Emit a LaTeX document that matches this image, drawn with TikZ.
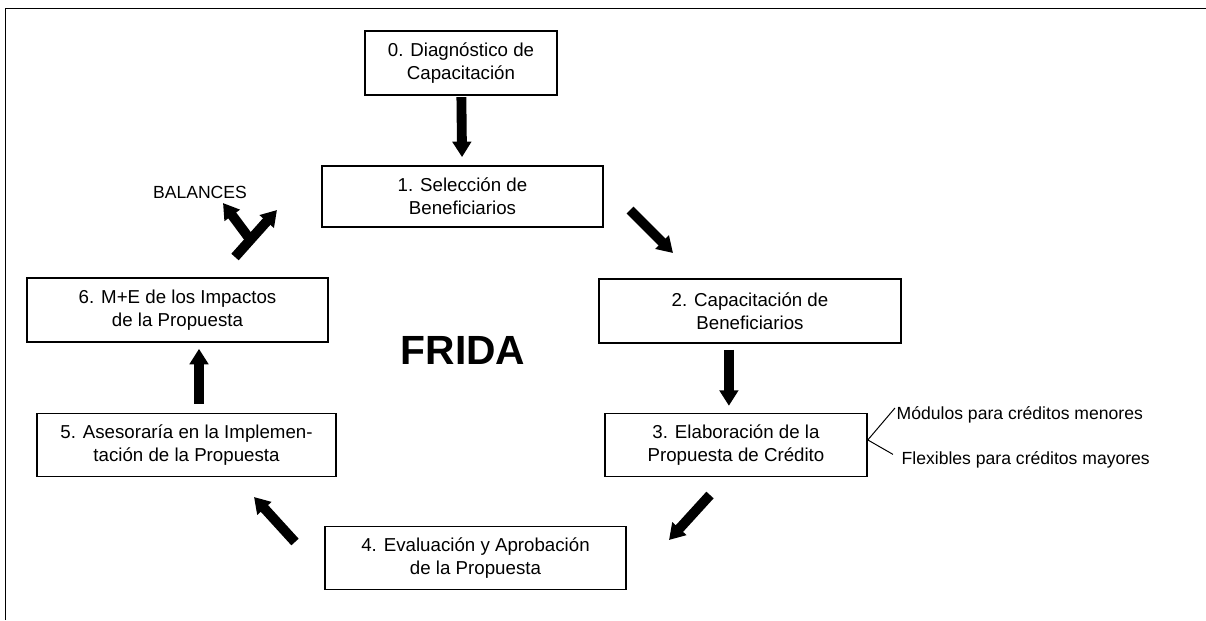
\documentclass[tikz,border=0pt]{standalone}
\usepackage{fontspec}
\setmainfont{Liberation Sans}
\usetikzlibrary{arrows.meta}

\begin{document}
\begin{tikzpicture}[x=0.025cm,y=-0.025cm,
    caja/.style={draw,line width=1.1pt,align=center,inner sep=0pt,
      minimum height=1.57cm,font=\fontsize{13.3}{16.4}\selectfont},
    flecha/.style={line width=7pt,-{Triangle[width=13pt,length=11pt]}},
    nota/.style={inner sep=1pt,font=\fontsize{12.5}{15}\selectfont}]
  \path[use as bounding box] (0,0) rectangle (1206,620);
  \path[draw,line width=1.1pt] (5.5,620) -- (5.5,8.5) -- (1206,8.5);
  \node[caja,minimum width=4.8cm,minimum height=1.6cm] at (461,63) (diag) {0. Diagnóstico de\\Capacitación};
  \node[caja,minimum width=7.03cm,minimum height=1.53cm] at (462.5,196.5) (sel) {1. Selección de\\Beneficiarios};
  \node[caja,minimum width=7.55cm,minimum height=1.6cm] at (750,311) (cap) {2. Capacitación de\\Beneficiarios};
  \node[caja,minimum width=6.55cm] at (736,445) (elab) {3. Elaboración de la\\Propuesta de Crédito};
  \node[caja,minimum width=7.53cm] at (475.5,558) (eval) {4. Evaluación y Aprobación\\de la Propuesta};
  \node[caja,minimum width=7.48cm] at (186.5,445) (ases) {5. Asesoraría en la Implemen-\\tación de la Propuesta};
  \node[caja,minimum width=7.53cm,minimum height=1.6cm] at (177.5,310) (mye) {6. M+E de los Impactos\\de la Propuesta};
  \node[font=\bfseries\fontsize{29}{34}\selectfont] at (463,350) (frida) {FRIDA};
  \node[nota] at (200,192) (bal) {BALANCES};
  \node[nota,anchor=west] at (895,415) (mod) {Módulos para créditos menores};
  \node[nota,anchor=west] at (900,460) (flex) {Flexibles para créditos mayores};
  \path[draw,line width=0.7pt] ([yshift=5pt]mod.west) -- ([yshift=3.6pt]elab.east) -- ([yshift=4pt,xshift=-5pt]flex.west);
  \coordinate (t12) at (630,210);
  \coordinate (h12) at (673,253);
  \coordinate (t34) at (710,495);
  \coordinate (h34) at (669,540);
  \coordinate (t45) at (295,542);
  \coordinate (h45) at (254,497);
  \coordinate (ybase) at (235,257);
  \coordinate (yder) at (277,210);
  \coordinate (yfork) at (249,238);
  \coordinate (yizq) at (223,203);
  \path[draw,flecha,shorten <=1pt,shorten >=5.7pt] (diag) -- (sel);
  \path[draw,flecha] (t12) -- (h12);
  \path[draw,flecha,shorten <=4.3pt,shorten >=5pt] ([xshift=-15pt]cap.south) -- ([xshift=-15pt]cap.south |- elab.north);
  \path[draw,flecha] (t34) -- (h34);
  \path[draw,flecha] (t45) -- (h45);
  \path[draw,flecha,shorten <=6.4pt,shorten >=4.3pt] ([xshift=8.9pt]ases.north) -- ([xshift=8.9pt]ases.north |- mye.south);
  \path[draw,flecha] (ybase) -- (yder);
  \path[draw,flecha] (yfork) -- (yizq);
\end{tikzpicture}
\end{document}
